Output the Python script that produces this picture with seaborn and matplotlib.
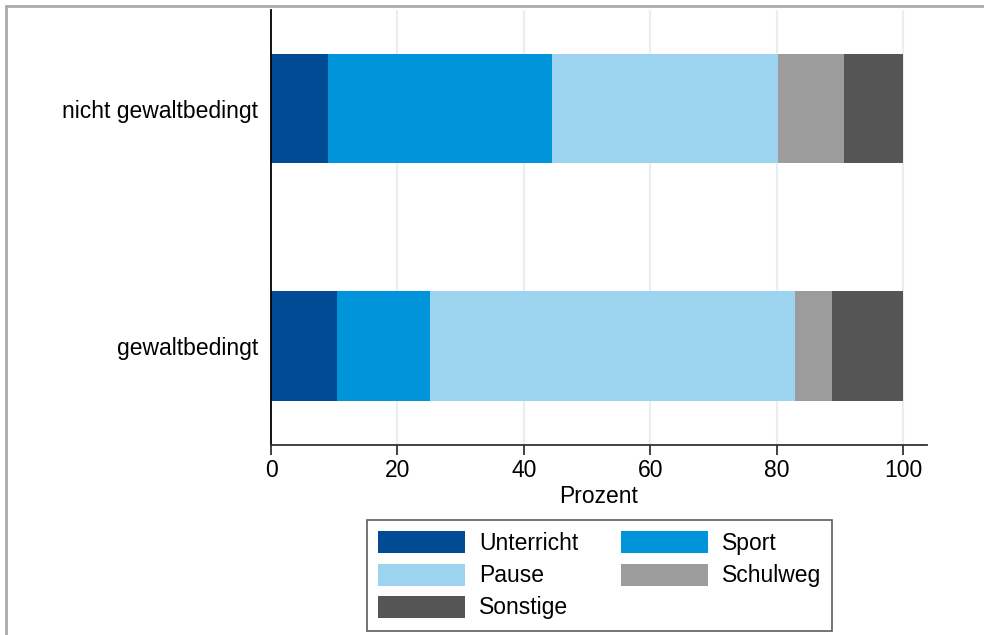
import matplotlib
matplotlib.use("Agg")
import matplotlib.pyplot as plt
import seaborn as sns
import numpy as np
import pandas as pd
from matplotlib.patches import Patch
from matplotlib.lines import Line2D

categories = ["nicht gewaltbedingt", "gewaltbedingt"]
series = ["Unterricht", "Sport", "Pause", "Schulweg", "Sonstige"]
unterricht = [9.0, 10.4]
sport = [35.4, 14.8]
pause = [35.8, 57.7]
schulweg = [10.5, 5.9]
sonstige = [9.3, 11.2]
colors = ["#004b93", "#0095da", "#9cd4f0", "#9c9c9c", "#555555"]
xticks = [0, 20, 40, 60, 80, 100]

sns.set_style("white")
plt.rcParams["font.family"] = ["Liberation Sans", "DejaVu Sans"]
plt.rcParams["text.color"] = "black"
plt.rcParams["axes.labelcolor"] = "black"
plt.rcParams["xtick.color"] = "black"
plt.rcParams["ytick.color"] = "black"

values = [unterricht, sport, pause, schulweg, sonstige]
cum = np.cumsum(np.array(values), axis=0)

fig = plt.figure(figsize=(9.84, 6.35), dpi=100)
ax = fig.add_axes([271 / 984, 1 - 445 / 635, (926.7 - 271) / 984, (445 - 10) / 635])

for i in range(len(series) - 1, -1, -1):
    df = pd.DataFrame({"cat": categories, "val": cum[i]})
    sns.barplot(data=df, x="val", y="cat", orient="h", color=colors[i],
                width=0.46, ax=ax, saturation=1, edgecolor="none", linewidth=0,
                zorder=2)

ax.set_xlim(0, 103.75)
ax.set_ylim(1.417, -0.415)
ax.set_xticks(xticks)
ax.set_xticklabels([str(t) for t in xticks])
for t in xticks[1:]:
    ax.axvline(t, color="#e8eef3", lw=1.6, zorder=0)

ax.set_xlabel("Prozent", fontsize=16.5, labelpad=2, color="black")
ax.set_ylabel("")
ax.tick_params(axis="x", labelsize=16.5, length=7, width=1.3, color="#333333",
               labelcolor="black", pad=3, direction="out", bottom=True)
ax.tick_params(axis="y", labelsize=16.5, length=0, pad=9, labelcolor="black")
for s in ["top", "right"]:
    ax.spines[s].set_visible(False)
ax.spines["left"].set_color("black")
ax.spines["left"].set_linewidth(1.3)
ax.spines["bottom"].set_color("#333333")
ax.spines["bottom"].set_linewidth(1.3)

handles = [Patch(facecolor=c, edgecolor="none", label=s) for c, s in zip(colors, series)]
# row-major order for a 2-column legend
order = [0, 2, 4, 1, 3]
handles = [handles[k] for k in order]
leg = fig.legend(handles=handles, loc="upper center", ncol=2,
                 bbox_to_anchor=(599.5 / 984, 1 - 520 / 635), fontsize=16.5,
                 frameon=True, fancybox=False, edgecolor="#333333",
                 handlelength=3.8, handleheight=1.1, handletextpad=0.6,
                 labelspacing=0.36, columnspacing=1.85, borderpad=0.5,
                 borderaxespad=0)
leg.get_frame().set_linewidth(1.2)
for t in leg.get_texts():
    t.set_color("black")

# outer grey frame (cut off at right and bottom)
fig.add_artist(Line2D([6 / 984, 1.0], [1 - 6 / 635, 1 - 6 / 635], transform=fig.transFigure,
                      color="#aaaaaa", lw=2))
fig.add_artist(Line2D([6 / 984, 6 / 984], [0, 1 - 6 / 635], transform=fig.transFigure,
                      color="#aaaaaa", lw=2))

fig.savefig("out.png", dpi=100)
